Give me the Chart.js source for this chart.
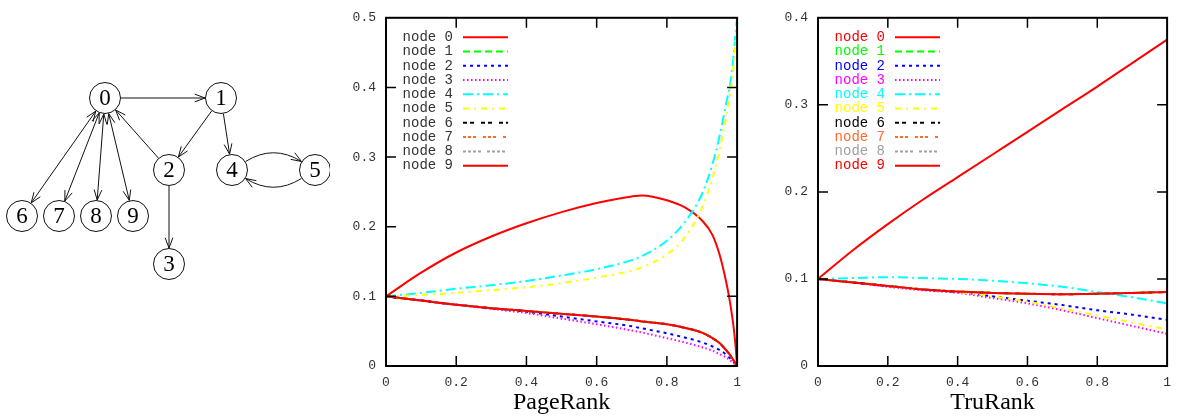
<!DOCTYPE html>
<html>
<head>
<meta charset="utf-8">
<script src="https://cdn.jsdelivr.net/npm/chart.js@4.4.0/dist/chart.umd.min.js"></script>
<style>
body{margin:0;background:#fff;width:1180px;height:420px;overflow:hidden;position:relative}
.box{position:absolute;top:0;height:420px}
</style>
</head>
<body>
<div class="box" style="left:0;width:330px"><canvas id="graph"></canvas></div>
<div class="box" style="left:330px;width:420px"><canvas id="pr"></canvas></div>
<div class="box" style="left:760px;width:420px"><canvas id="tr"></canvas></div>
<script>
// graph layout (node positions in layout units)
const nodeLabels = ['0','1','2','3','4','5','6','7','8','9'];
const nodeX = [105, 221, 169, 169, 232, 315, 22, 59, 96, 133];
const nodeY = [98, 98, 170, 264, 170, 170, 216, 216, 216, 216];
const edgeFrom = [0, 1, 1, 2, 2, 4, 5, 0, 0, 0, 0];
const edgeTo   = [1, 2, 4, 0, 3, 5, 4, 6, 7, 8, 9];
const edgeBend = [0, 0, 0, 0, 0, 1, 1, 0, 0, 0, 0];
const edgeBoth = [0, 0, 0, 0, 0, 0, 0, 1, 1, 1, 1];

// series
const seriesNames = ['node 0','node 1','node 2','node 3','node 4','node 5','node 6','node 7','node 8','node 9'];
const xTickLabels = ['0','0.2','0.4','0.6','0.8','1'];
const prYTickLabels = ['0','0.1','0.2','0.3','0.4','0.5'];
const trYTickLabels = ['0','0.1','0.2','0.3','0.4'];

const prX = [0,0.1,0.2,0.3,0.4,0.5,0.6,0.7,0.73,0.8,0.85,0.9,0.93,0.95,0.97,0.98,0.99,0.995,1];
const prNode0 = [0.1,0.134,0.163,0.186,0.205,0.221,0.234,0.2435,0.245,0.238,0.228,0.209,0.188,0.160,0.118,0.091,0.056,0.032,0];
const prNode2 = [0.1,0.094,0.088,0.083,0.078,0.071,0.064,0.057,0.054,0.047,0.041,0.034,0.028,0.023,0.016,0.011,0.006,0.003,0];
const prNode3 = [0.1,0.094,0.088,0.082,0.076,0.068,0.060,0.051,0.048,0.040,0.034,0.027,0.022,0.017,0.012,0.008,0.004,0.002,0];
const prNode4 = [0.1,0.105,0.111,0.116,0.122,0.130,0.139,0.152,0.158,0.180,0.206,0.247,0.29,0.33,0.38,0.405,0.445,0.475,0.5];
const prNode5 = [0.1,0.102,0.105,0.109,0.113,0.119,0.127,0.137,0.142,0.160,0.184,0.227,0.27,0.31,0.36,0.39,0.43,0.462,0.49];
const prLeaf  = [0.1,0.094,0.088,0.083,0.079,0.075,0.071,0.066,0.064,0.060,0.055,0.048,0.040,0.033,0.022,0.016,0.008,0.004,0];

const trX = [0,0.1,0.2,0.3,0.4,0.5,0.6,0.7,0.8,0.9,1];
const trNode0 = [0.1,0.133,0.163,0.191,0.217,0.243,0.269,0.295,0.321,0.348,0.375];
const trNode2 = [0.1,0.096,0.092,0.088,0.085,0.080,0.075,0.070,0.064,0.059,0.053];
const trNode3 = [0.1,0.096,0.091,0.087,0.084,0.078,0.072,0.064,0.055,0.046,0.037];
const trNode4 = [0.1,0.101,0.102,0.101,0.100,0.098,0.095,0.091,0.085,0.079,0.072];
const trNode5 = [0.1,0.096,0.092,0.088,0.085,0.080,0.074,0.066,0.058,0.050,0.042];
const trLeaf  = [0.1,0.096,0.092,0.088,0.0855,0.084,0.083,0.0825,0.083,0.084,0.085];

const prSeries = [prNode0, prLeaf, prNode2, prNode3, prNode4, prNode5, prLeaf, prLeaf, prLeaf, prLeaf];
const trSeries = [trNode0, trLeaf, trNode2, trNode3, trNode4, trNode5, trLeaf, trLeaf, trLeaf, trLeaf];

const lineColors = ['#ff0000','#00ff00','#0000ff','#ff00ff','#00ffff','#ffff00','#000000','#ff6a2a','#a0a0a0','#ff0000'];
const lineDashes = [[], [7,4], [3,4], [1.5,2.5], [10,4,2,4], [6,5,2,5], [4,3,4,7], [3,2,3,2,3,7], [3,2,3,2,3,2,3,6], []];

// ---- graph diagram ----
function arrowHead(ctx, x, y, ang){
  const L = 11, w = 0.36;
  ctx.beginPath();
  ctx.moveTo(x - L*Math.cos(ang-w), y - L*Math.sin(ang-w));
  ctx.lineTo(x, y);
  ctx.lineTo(x - L*Math.cos(ang+w), y - L*Math.sin(ang+w));
  ctx.stroke();
}

const edgePlugin = {
  id: 'edges',
  beforeDatasetsDraw(chart){
    const ctx = chart.ctx, sx = chart.scales.x, sy = chart.scales.y;
    const r = 16;
    ctx.save();
    ctx.strokeStyle = '#111';
    ctx.lineWidth = 1;
    edgeFrom.forEach((f, k) => {
      const t = edgeTo[k];
      const x1 = sx.getPixelForValue(nodeX[f]), y1 = sy.getPixelForValue(nodeY[f]);
      const x2 = sx.getPixelForValue(nodeX[t]), y2 = sy.getPixelForValue(nodeY[t]);
      const len = Math.hypot(x2-x1, y2-y1);
      const ux = (x2-x1)/len, uy = (y2-y1)/len;
      if(edgeBend[k]){
        const cx = (x1+x2)/2 + uy*edgeBend[k]*26, cy = (y1+y2)/2 - ux*edgeBend[k]*26;
        const a1 = Math.atan2(cy-y1, cx-x1), a2 = Math.atan2(cy-y2, cx-x2);
        const bx = x1 + r*Math.cos(a1), by = y1 + r*Math.sin(a1);
        const ex = x2 + r*Math.cos(a2), ey = y2 + r*Math.sin(a2);
        ctx.beginPath(); ctx.moveTo(bx, by); ctx.quadraticCurveTo(cx, cy, ex, ey); ctx.stroke();
        arrowHead(ctx, ex, ey, Math.atan2(ey-cy, ex-cx));
      } else {
        const bx = x1 + ux*r, by = y1 + uy*r, ex = x2 - ux*r, ey = y2 - uy*r;
        ctx.beginPath(); ctx.moveTo(bx, by); ctx.lineTo(ex, ey); ctx.stroke();
        arrowHead(ctx, ex, ey, Math.atan2(uy, ux));
        if(edgeBoth[k]) arrowHead(ctx, bx, by, Math.atan2(-uy, -ux));
      }
    });
    ctx.restore();
  },
  afterDatasetsDraw(chart){
    const ctx = chart.ctx;
    const pts = chart.getDatasetMeta(0).data;
    ctx.save();
    ctx.fillStyle = '#000';
    ctx.font = '23px "Liberation Serif"';
    ctx.textAlign = 'center';
    ctx.textBaseline = 'middle';
    pts.forEach((p, i) => ctx.fillText(nodeLabels[i], p.x, p.y + 1));
    ctx.restore();
  }
};

new Chart(document.getElementById('graph'), {
  type: 'scatter',
  data: {
    datasets: [{
      data: nodeX.map((x, i) => ({x: x, y: nodeY[i]})),
      pointRadius: 15.5,
      pointBackgroundColor: '#fff',
      pointBorderColor: '#111',
      pointBorderWidth: 1,
      clip: false
    }]
  },
  options: {
    responsive: true,
    maintainAspectRatio: false,
    animation: false,
    events: [],
    layout: {padding: 0, autoPadding: false},
    plugins: {legend: {display: false}, tooltip: {enabled: false}},
    scales: {
      x: {type: 'linear', min: 0, max: 330, display: false},
      y: {type: 'linear', min: 0, max: 420, reverse: true, display: false}
    }
  },
  plugins: [edgePlugin]
});

// ---- line charts ----
const framePlugin = {
  id: 'frame',
  afterDatasetsDraw(chart){
    const ctx = chart.ctx, a = chart.chartArea, sx = chart.scales.x, sy = chart.scales.y;
    ctx.save();
    ctx.strokeStyle = '#000';
    ctx.lineWidth = 1.5;
    ctx.beginPath();
    sx.ticks.forEach(t => {
      if(t.value <= sx.min || t.value >= sx.max) return;
      const p = sx.getPixelForValue(t.value);
      ctx.moveTo(p, a.bottom); ctx.lineTo(p, a.bottom - 10);
      ctx.moveTo(p, a.top); ctx.lineTo(p, a.top + 10);
    });
    sy.ticks.forEach(t => {
      if(t.value <= sy.min || t.value >= sy.max) return;
      const p = sy.getPixelForValue(t.value);
      ctx.moveTo(a.left, p); ctx.lineTo(a.left + 10, p);
      ctx.moveTo(a.right, p); ctx.lineTo(a.right - 10, p);
    });
    ctx.stroke();
    ctx.lineWidth = 2;
    ctx.strokeRect(a.left, a.top, a.right - a.left, a.bottom - a.top);
    ctx.restore();
  }
};

const keyPlugin = {
  id: 'key',
  afterDraw(chart, args, opts){
    const ctx = chart.ctx, a = chart.chartArea;
    ctx.save();
    ctx.font = '14px "Liberation Mono"';
    ctx.textAlign = 'right';
    ctx.textBaseline = 'middle';
    chart.data.datasets.forEach((ds, i) => {
      const y = a.top + 19.5 + i*14.26;
      ctx.fillStyle = opts.colored ? ds.borderColor : '#333';
      ctx.fillText(ds.label, a.left + 67, y);
      ctx.strokeStyle = ds.borderColor;
      ctx.lineWidth = 2;
      ctx.setLineDash(ds.borderDash);
      ctx.beginPath(); ctx.moveTo(a.left + 77, y); ctx.lineTo(a.left + 122, y); ctx.stroke();
    });
    ctx.restore();
  }
};

function makeLines(id, xs, series, yMax, yLabels, title, yWidth, padRight, colored){
  const tickFont = {family: 'Liberation Mono', size: 13};
  new Chart(document.getElementById(id), {
    type: 'line',
    data: {
      datasets: series.map((vals, i) => ({
        label: seriesNames[i],
        data: xs.map((x, j) => ({x: x, y: vals[j]})),
        borderColor: lineColors[i],
        borderDash: lineDashes[i],
        borderWidth: 2,
        pointRadius: 0,
        fill: false,
        cubicInterpolationMode: 'monotone',
        order: series.length - 1 - i
      }))
    },
    options: {
      responsive: true,
      maintainAspectRatio: false,
      animation: false,
      events: [],
      layout: {padding: {left: 0, right: padRight, top: 10, bottom: 0}, autoPadding: false},
      plugins: {legend: {display: false}, tooltip: {enabled: false}, key: {colored: colored}},
      scales: {
        x: {
          type: 'linear', min: 0, max: 1,
          grid: {display: false, drawTicks: false},
          border: {display: false},
          ticks: {stepSize: 0.2, padding: 9, color: '#333', font: tickFont, maxRotation: 0,
                  callback: (v, i) => xTickLabels[i]},
          title: {display: true, text: title, color: '#000',
                  font: {family: 'Liberation Serif', size: 24}, padding: {top: 0, bottom: 3}},
          afterFit: s => { s.height = 54; }
        },
        y: {
          type: 'linear', min: 0, max: yMax,
          grid: {display: false, drawTicks: false},
          border: {display: false},
          ticks: {stepSize: 0.1, padding: 10, color: '#333', font: tickFont,
                  callback: (v, i) => yLabels[i]},
          afterFit: s => { s.width = yWidth; }
        }
      }
    },
    plugins: [framePlugin, keyPlugin]
  });
}

makeLines('pr', prX, prSeries, 0.5, prYTickLabels, 'PageRank', 56, 11, false);
makeLines('tr', trX, trSeries, 0.4, trYTickLabels, 'TruRank', 58, 7, true);
</script>
</body>
</html>
